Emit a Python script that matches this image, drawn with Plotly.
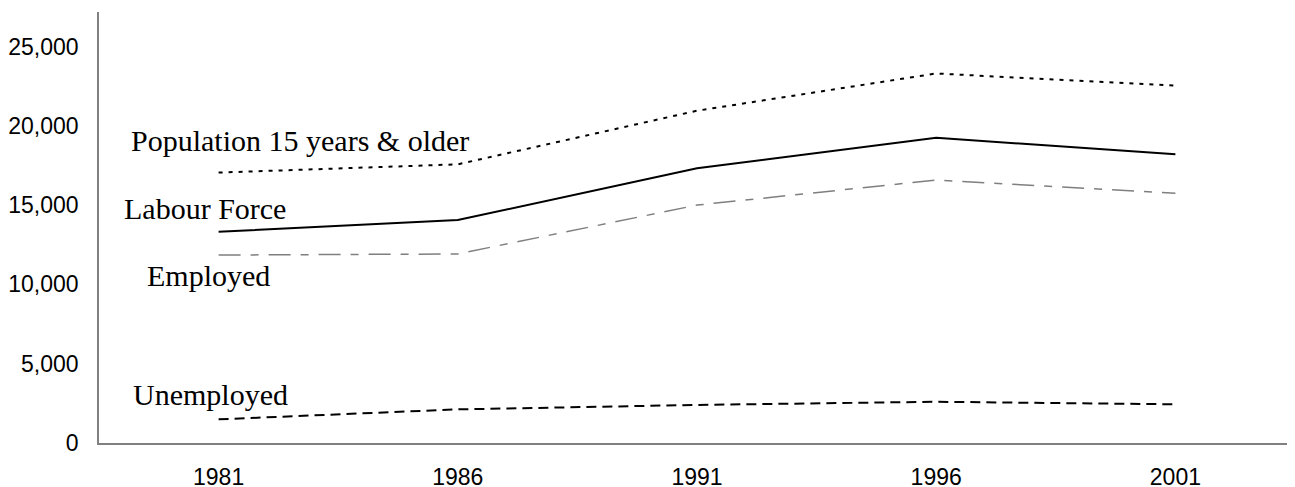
import plotly.graph_objects as go

years = ["1981", "1986", "1991", "1996", "2001"]
population_15_plus = [17050, 17570, 20950, 23300, 22530]
labour_force = [13320, 14060, 17320, 19250, 18200]
employed = [11850, 11920, 15000, 16580, 15740]
unemployed = [1490, 2120, 2400, 2600, 2440]

y_ticks = [0, 5000, 10000, 15000, 20000, 25000]
y_tick_labels = ["0", "5,000", "10,000", "15,000", "20,000", "25,000"]

fig = go.Figure()
fig.add_trace(go.Scatter(x=years, y=population_15_plus, mode="lines",
                         line=dict(color="black", width=2, dash="4px,6px"),
                         name="Population 15 years & older"))
fig.add_trace(go.Scatter(x=years, y=labour_force, mode="lines",
                         line=dict(color="black", width=2),
                         name="Labour Force"))
fig.add_trace(go.Scatter(x=years, y=employed, mode="lines",
                         line=dict(color="#7f7f7f", width=1.5, dash="22px,10px,8px,10px"),
                         name="Employed"))
fig.add_trace(go.Scatter(x=years, y=unemployed, mode="lines",
                         line=dict(color="black", width=2, dash="10px,6px"),
                         name="Unemployed"))

# page is offset by the 8px body margin
OFF = 8
W, H, L = 1287, 479, 91
PW = W - L
def px(xp_page):
    return (xp_page - OFF - L) / PW

labels = [
    ("Population 15 years & older", 129, 19100),
    ("Labour Force", 122, 14800),
    ("Employed", 145, 10550),
    ("Unemployed", 131, 3080),
]
for text, xp, yv in labels:
    fig.add_annotation(text=text, xref="paper", x=px(xp), yref="y", y=yv,
                       xanchor="left", yanchor="middle", showarrow=False,
                       font=dict(family="Liberation Serif, Times New Roman, serif",
                                 size=30, color="black"))

fig.update_layout(
    width=W, height=H,
    margin=dict(l=L, r=0, t=4, b=44),
    paper_bgcolor="white", plot_bgcolor="white",
    showlegend=False,
    font=dict(family="Liberation Sans, Arial, sans-serif", size=23, color="black"),
)
fig.update_xaxes(type="category", range=[-0.5, 4.5], showgrid=False, zeroline=False,
                 showline=True, linecolor="#808080", linewidth=1.5,
                 ticks="", ticklabelstandoff=13, automargin=False,
                 tickfont=dict(size=23, color="black"))
fig.update_yaxes(range=[0, 27175], tickvals=y_ticks, ticktext=y_tick_labels,
                 showgrid=False, zeroline=False,
                 showline=True, linecolor="#808080", linewidth=1.5,
                 ticks="", ticklabelstandoff=14, automargin=False,
                 tickfont=dict(size=23, color="black"))

fig.write_html("out.html")
